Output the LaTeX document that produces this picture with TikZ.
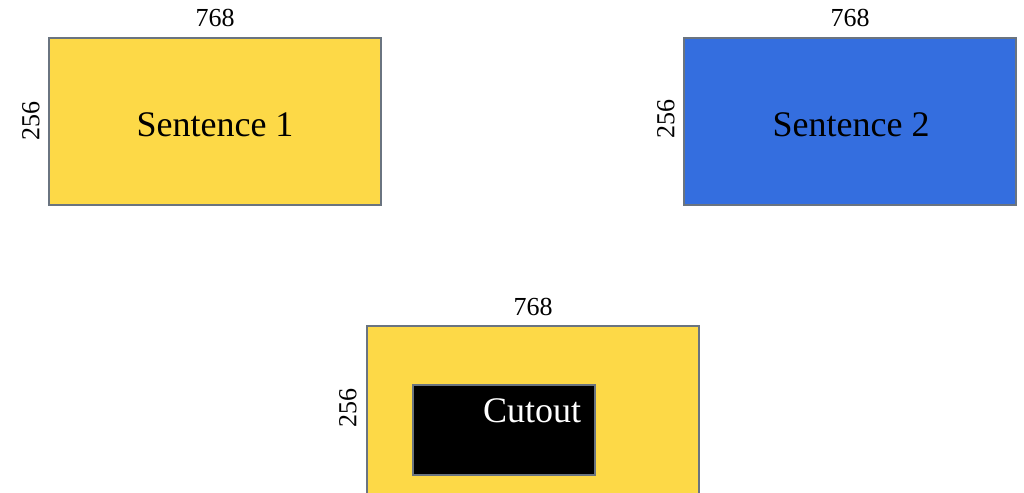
\documentclass[tikz,border=0pt]{standalone}
\usepackage{fontspec}
\setmainfont{Liberation Serif}
\definecolor{boxyellow}{HTML}{FDD947}
\definecolor{boxblue}{HTML}{346EDF}
\definecolor{edgegray}{HTML}{6A7480}
\begin{document}
\begin{tikzpicture}[x=1pt,y=-1pt,
  panel/.style={draw=edgegray,line width=1.5pt},
  dimlabel/.style={font=\fontsize{26}{30}\selectfont,inner sep=0pt},
  bigtext/.style={font=\fontsize{36}{40}\selectfont,inner sep=0pt}]
\useasboundingbox (0,0) rectangle (1024,492);
\fill[white] (0,0) rectangle (1024,492);
% box 1
\draw[panel,fill=boxyellow] (49,38) rectangle (381,205);
\node[bigtext] (s1) at (215,124.5) {Sentence 1};
\node[dimlabel] (w1) at (215,18) {768};
\node[dimlabel,rotate=90] (h1) at (31,121) {256};
% box 2
\draw[panel,fill=boxblue] (684,38) rectangle (1016,205);
\node[bigtext] (s2) at (851,124.5) {Sentence 2};
\node[dimlabel] (w2) at (850,18) {768};
\node[dimlabel,rotate=90] (h2) at (666,119) {256};
% box 3
\draw[panel,fill=boxyellow] (367,326) rectangle (699,500);
\draw[panel,fill=black] (413,385) rectangle (595,475);
\node[bigtext,text=white] (c) at (532,411) {Cutout};
\node[dimlabel] (w3) at (533,307) {768};
\node[dimlabel,rotate=90] (h3) at (348,408) {256};
\end{tikzpicture}
\end{document}
